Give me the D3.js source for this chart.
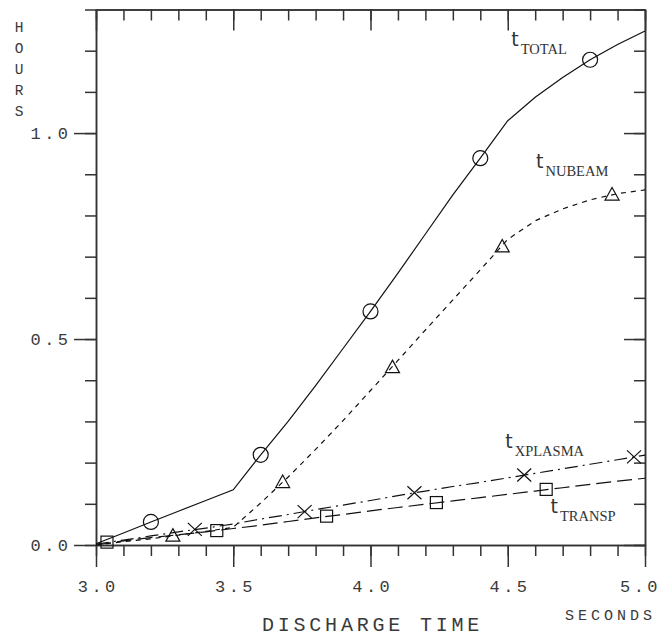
<!DOCTYPE html>
<html>
<head>
<meta charset="utf-8">
<script src="https://cdn.jsdelivr.net/npm/d3@7"></script>
<style>
  body { margin: 0; background: #fff; }
  svg { display: block; }
  .axis path, .axis line { stroke: #333; stroke-width: 1.5; }
  .lbl { font-family: "Liberation Mono", "Courier New", monospace; fill: #3a3a3a; }
</style>
</head>
<body>
<div id="chart"></div>
<script>
// discharge time (s)
const times   = [3.0, 3.1, 3.2, 3.3, 3.4, 3.5, 3.6, 3.7, 3.8, 3.9, 4.0, 4.1, 4.2, 4.3, 4.4, 4.5, 4.6, 4.7, 4.8, 4.9, 5.0];
// wall clock hours
const total   = [0.003, 0.029, 0.056, 0.082, 0.108, 0.134, 0.219, 0.300, 0.387, 0.477, 0.567, 0.660, 0.755, 0.850, 0.939, 1.030, 1.087, 1.135, 1.178, 1.215, 1.248];
const nubeam  = [0.000, 0.008, 0.015, 0.024, 0.033, 0.043, 0.102, 0.165, 0.232, 0.302, 0.375, 0.448, 0.522, 0.595, 0.668, 0.742, 0.787, 0.816, 0.838, 0.853, 0.862];
const xplasma = [0.002, 0.012, 0.022, 0.032, 0.041, 0.051, 0.063, 0.074, 0.086, 0.097, 0.108, 0.120, 0.131, 0.142, 0.152, 0.163, 0.174, 0.185, 0.196, 0.207, 0.218];
const transp  = [0.000, 0.010, 0.018, 0.025, 0.032, 0.040, 0.048, 0.057, 0.066, 0.074, 0.083, 0.091, 0.099, 0.107, 0.115, 0.123, 0.131, 0.139, 0.147, 0.155, 0.162];

// symbol positions on each curve
const totalMarkT   = [3.20, 3.60, 4.00, 4.40, 4.80];
const totalMarkV   = [0.056, 0.219, 0.567, 0.939, 1.178];
const nubeamMarkT  = [3.28, 3.68, 4.08, 4.48, 4.88];
const nubeamMarkV  = [0.024, 0.154, 0.433, 0.726, 0.852];
const xplasmaMarkT = [3.36, 3.76, 4.16, 4.56, 4.96];
const xplasmaMarkV = [0.038, 0.081, 0.127, 0.170, 0.214];
const transpMarkT  = [3.04, 3.44, 3.84, 4.24, 4.64];
const transpMarkV  = [0.007, 0.035, 0.070, 0.103, 0.135];

const xMajor = [3.0, 3.5, 4.0, 4.5, 5.0];
const xTickLabels = ["3.0", "3.5", "4.0", "4.5", "5.0"];
const yMajor = [0.0, 0.5, 1.0];
const yTickLabels = ["0.0", "0.5", "1.0"];

const W = 665, H = 636;
const svg = d3.select("#chart").append("svg").attr("width", W).attr("height", H);

const x = d3.scaleLinear().domain([3, 5]).range([96, 645]);
const y = d3.scaleLinear().domain([0, 1.3]).range([545, 9.5]);

const xMinor = d3.range(0, 21).map(i => 3 + i / 10);
const yMinor = d3.range(0, 14).map(i => i / 10);

function axisG(tr) {
  return svg.append("g").attr("class", "axis").attr("transform", tr);
}
const noLbl = () => "";

// bottom: ticks outside
axisG("translate(0,545)").call(d3.axisBottom(x).tickValues(xMinor).tickSize(11).tickSizeOuter(0).tickFormat(noLbl));
const bx = axisG("translate(0,545)").call(d3.axisBottom(x).tickValues(xMajor).tickSize(22).tickSizeOuter(0)
  .tickPadding(13).tickFormat((d, i) => xTickLabels[i]));
// left: ticks outside
axisG("translate(96,0)").call(d3.axisLeft(y).tickValues(yMinor).tickSize(11).tickSizeOuter(0).tickFormat(noLbl));
const ly = axisG("translate(96,0)").call(d3.axisLeft(y).tickValues(yMajor).tickSize(22).tickSizeOuter(0)
  .tickPadding(6).tickFormat((d, i) => yTickLabels[i]));
// top and right: ticks inside
axisG("translate(0,9.5)").call(d3.axisTop(x).tickValues(xMinor).tickSize(-11).tickSizeOuter(0).tickFormat(noLbl));
axisG("translate(0,9.5)").call(d3.axisTop(x).tickValues(xMajor).tickSize(-21).tickSizeOuter(0).tickFormat(noLbl));
axisG("translate(645,0)").call(d3.axisRight(y).tickValues(yMinor).tickSize(-11).tickSizeOuter(0).tickFormat(noLbl));
axisG("translate(645,0)").call(d3.axisRight(y).tickValues(yMajor).tickSize(-21).tickSizeOuter(0).tickFormat(noLbl));

[bx, ly].forEach(g => g.selectAll("text")
  .attr("class", "lbl")
  .style("font-size", "17px")
  .style("letter-spacing", "3.4px"));
bx.selectAll("text").attr("dx", "1.7");
ly.selectAll("text").attr("dx", "3.4");
// last label pulled in so it stays on the page
bx.selectAll("text").filter(d => d === 5).attr("dx", "-5");

// axis titles
const hours = svg.append("text").attr("class", "lbl").style("font-size", "14.5px").attr("text-anchor", "middle");
"HOURS".split("").forEach((c, i) => {
  hours.append("tspan").attr("x", 19).attr("y", 31.5 + i * 21.2).text(c);
});
svg.append("text").attr("class", "lbl")
  .attr("x", 565).attr("y", 619.5)
  .style("font-size", "15px").style("letter-spacing", "4px")
  .text("SECONDS");
svg.append("text").attr("class", "lbl")
  .attr("x", (x(3) + x(5)) / 2 + 2).attr("y", 631)
  .attr("text-anchor", "middle")
  .style("font-size", "20px").style("letter-spacing", "3.8px")
  .text("DISCHARGE TIME");

// curves
const line = d3.line().x(d => x(d[0])).y(d => y(d[1]));
const series = [
  { vals: total,   dash: null },
  { vals: nubeam,  dash: "5,5" },
  { vals: xplasma, dash: "13,5,2,5" },
  { vals: transp,  dash: "15,6" }
];
series.forEach(s => {
  svg.append("path")
    .datum(times.map((t, i) => [t, s.vals[i]]))
    .attr("d", line)
    .attr("fill", "none")
    .attr("stroke", "#111")
    .attr("stroke-width", 1.2)
    .attr("stroke-dasharray", s.dash);
});

// markers
const mk = svg.append("g").attr("fill", "none").attr("stroke", "#111").attr("stroke-width", 1.2);
mk.selectAll("circle").data(totalMarkT).join("circle")
  .attr("cx", d => x(d)).attr("cy", (d, i) => y(totalMarkV[i])).attr("r", 7.5);
mk.selectAll("path.tri").data(nubeamMarkT).join("path").attr("class", "tri")
  .attr("transform", (d, i) => `translate(${x(d)},${y(nubeamMarkV[i])})`)
  .attr("d", "M0,-6.5L7,6L-7,6Z");
mk.selectAll("path.ex").data(xplasmaMarkT).join("path").attr("class", "ex")
  .attr("transform", (d, i) => `translate(${x(d)},${y(xplasmaMarkV[i])})`)
  .attr("d", "M-7,-6.5L7,6.5M-7,6.5L7,-6.5");
mk.selectAll("rect").data(transpMarkT).join("rect")
  .attr("x", d => x(d) - 6).attr("y", (d, i) => y(transpMarkV[i]) - 6)
  .attr("width", 12).attr("height", 12);

// curve names: big t with serif subscript
const names = [
  { sub: "TOTAL",   t: 4.513, v: 1.212 },
  { sub: "NUBEAM",  t: 4.603, v: 0.916 },
  { sub: "XPLASMA", t: 4.491, v: 0.236 },
  { sub: "TRANSP",  t: 4.656, v: 0.077 }
];
names.forEach(n => {
  const tx = svg.append("text").attr("x", x(n.t)).attr("y", y(n.v)).attr("fill", "#333");
  tx.append("tspan").style("font-family", "'DejaVu Sans', sans-serif")
    .style("font-size", "19px").text("t");
  tx.append("tspan").attr("dy", 8).attr("dx", 2)
    .style("font-family", "'Liberation Serif', serif").style("font-size", "14.5px").text(n.sub);
});
</script>
</body>
</html>
